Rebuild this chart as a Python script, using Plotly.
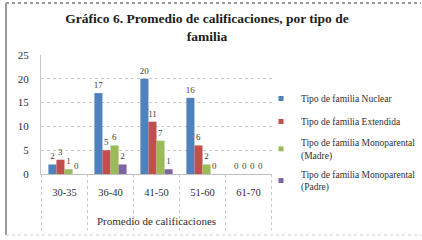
import plotly.graph_objects as go

categories = ["30-35", "36-40", "41-50", "51-60", "61-70"]
series_names = [
    "Tipo de familia Nuclear",
    "Tipo de familia Extendida",
    "Tipo de familia Monoparental<br>(Madre)",
    "Tipo de familia Monoparental<br>(Padre)",
]
nuclear = [2, 17, 20, 16, 0]
extendida = [3, 5, 11, 6, 0]
madre = [1, 6, 7, 2, 0]
padre = [0, 2, 1, 0, 0]
y_ticks = [0, 5, 10, 15, 20, 25]

series_values = [nuclear, extendida, madre, padre]
colors = ["#4F81BD", "#C0504D", "#9BBB59", "#8064A2"]
FONT = "Liberation Serif, Times New Roman, serif"

fig = go.Figure()
for name, vals, col in zip(series_names, series_values, colors):
    fig.add_trace(go.Bar(
        x=categories, y=vals, name=name, marker_color=col,
        marker_line_width=0,
        text=[str(v) for v in vals], textposition="outside",
        textfont=dict(size=9, color="#404040", family=FONT),
        constraintext="none", cliponaxis=False, showlegend=False,
    ))
for i, (name, col) in enumerate(zip(series_names, colors)):
    fig.add_trace(go.Scatter(
        x=[None], y=[None], mode="markers", name=name,
        marker=dict(symbol="square", size=5, color=col),
        legendgroup=f"g{i}", showlegend=True,
    ))

W, H = 422, 240
ml, mr, mt, mb = 41, 150, 55, 66
pw, ph = W - ml - mr, H - mt - mb
def px(x):
    return (x - ml) / pw
def py(y):
    return (H - mb - y) / ph

shapes = []
for k in range(len(categories) + 1):
    shapes.append(dict(type="line", xref="x", yref="paper",
                       x0=k - 0.5, x1=k - 0.5, y0=0, y1=py(230),
                       line=dict(color="#C8C8C8", width=1, dash="dot")))
shapes.append(dict(type="line", xref="paper", yref="paper",
                   x0=px(6), x1=px(6), y0=py(3), y1=py(235),
                   line=dict(color="#9A9A9A", width=2)))
shapes.append(dict(type="line", xref="paper", yref="paper",
                   x0=px(6), x1=px(421), y0=py(3), y1=py(3),
                   line=dict(color="#9A9A9A", width=2, dash="dot")))
shapes.append(dict(type="line", xref="paper", yref="paper",
                   x0=px(6), x1=px(421), y0=py(235), y1=py(235),
                   line=dict(color="#D0D0D0", width=1, dash="dot")))

fig.update_layout(
    width=W, height=H,
    margin=dict(l=ml, r=mr, t=mt, b=mb, autoexpand=False),
    paper_bgcolor="white", plot_bgcolor="white",
    font=dict(family=FONT, size=10, color="#202020"),
    title=dict(text="<b>Gráfico 6. Promedio de calificaciones, por tipo de<br>familia</b>",
               xref="container", yref="container",
               x=207 / W, xanchor="center", y=1 - 23 / H, yanchor="middle",
               font=dict(size=13.5, family=FONT, color="#202020")),
    barmode="group", bargap=0.3, bargroupgap=0,
    shapes=shapes,
    legend=dict(xref="container", yref="container",
                x=261 / W, xanchor="left", y=1 - 84 / H, yanchor="top",
                font=dict(size=9.5, family=FONT, color="#303030"),
                tracegroupgap=4, itemwidth=30, bgcolor="rgba(0,0,0,0)"),
    showlegend=True,
)
fig.update_xaxes(
    automargin=False,
    showgrid=False, showline=True, linecolor="#BFBFBF", linewidth=1,
    ticks="outside", ticklen=8, tickcolor="rgba(0,0,0,0)",
    tickfont=dict(size=10.5, family=FONT, color="#303030"),
    title=dict(text="Promedio de calificaciones", standoff=20,
               font=dict(size=11, family=FONT, color="#303030")),
)
fig.update_yaxes(
    automargin=False,
    range=[0, 25], tickvals=y_ticks, showgrid=True, gridcolor="#C8C8C8",
    griddash="dot", gridwidth=1, zeroline=False,
    showline=True, linecolor="#C8C8C8",
    ticks="outside", ticklen=9, tickcolor="rgba(0,0,0,0)",
    tickfont=dict(size=11, family=FONT, color="#303030"),
)

fig.write_html("out.html", config={"displayModeBar": False},
               post_script="document.body.style.margin='0';document.body.style.overflow='hidden';")
